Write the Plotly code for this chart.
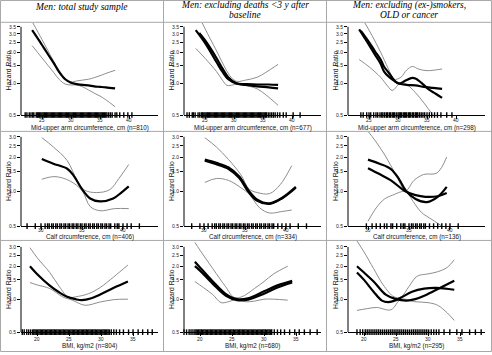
import math
import plotly.graph_objects as go

W, H = 492, 355

# ================= DATA =================
# Column titles
col_titles = [["Men: total study sample"],
              ["Men: excluding deaths &lt;3 y after", "baseline"],
              ["Men: excluding (ex-)smokers,", "OLD or cancer"]]
row_xlabels = [["Mid-upper arm circumference, cm (n=810)",
                "Mid-upper arm circumference, cm (n=677)",
                "Mid-upper arm circumference, cm (n=298)"],
               ["Calf circumference, cm (n=406)",
                "Calf circumference, cm (n=334)",
                "Calf circumference, cm (n=136)"],
               ["BMI, kg/m2 (n=804)", "BMI, kg/m2 (n=680)", "BMI, kg/m2 (n=295)"]]
y_title = "Hazard Ratio"

row_x_ticks = [[25, 30, 35, 40], [30, 35, 40], [20, 25, 30, 35]]
row_y_ticks = [[0.5, 1.0, 1.5, 2.0, 2.5, 3.0, 3.5],
               [0.5, 1.0, 1.5, 2.0, 2.5, 3.0],
               [0.5, 1.0, 1.5, 2.0, 2.5, 3.0]]

# ---- Row 1: MUAC ----
muac1_fit_x = [23.3, 24.0, 25.0, 26.0, 27.0, 28.0, 29.0, 30.0, 31.0, 32.0, 33.0, 34.0, 35.0, 36.0, 37.6]
muac1_fit_hr = [3.25, 2.85, 2.34, 1.92, 1.58, 1.28, 1.10, 1.02, 0.99, 0.97, 0.96, 0.94, 0.93, 0.92, 0.90]
muac1_up_x = [23.4, 25.0, 27.0, 28.0, 29.0, 30.0, 31.0, 32.0, 33.0, 34.0, 35.0, 36.0, 37.6]
muac1_up_hr = [3.83, 2.64, 1.64, 1.33, 1.12, 1.04, 1.06, 1.08, 1.10, 1.14, 1.19, 1.25, 1.34]
muac1_lo_x = [23.3, 25.0, 27.0, 28.0, 29.0, 30.0, 31.0, 32.0, 33.0, 34.0, 35.0, 36.0, 37.6]
muac1_lo_hr = [2.31, 1.76, 1.28, 1.09, 0.99, 0.97, 0.97, 0.93, 0.87, 0.81, 0.76, 0.70, 0.60]

muac2_fitA_x = [23.4, 25.0, 27.0, 28.0, 29.0, 30.5, 32.0, 34.0, 36.0, 37.6]
muac2_fitA_hr = [3.25, 2.45, 1.60, 1.30, 1.10, 1.00, 0.99, 0.98, 0.98, 0.97]
muac2_fitB_x = [24.0, 25.0, 27.0, 28.0, 29.0, 30.5, 32.0, 34.0, 36.0, 37.6]
muac2_fitB_hr = [3.05, 2.60, 1.75, 1.40, 1.15, 1.00, 0.97, 0.94, 0.92, 0.90]
muac2_up_x = [24.5, 25.0, 27.0, 28.6, 29.5, 30.5, 32.0, 34.0, 35.5, 37.6]
muac2_up_hr = [3.83, 3.36, 2.05, 1.37, 1.15, 1.05, 1.08, 1.15, 1.28, 1.53]
muac2_lo_x = [23.4, 25.0, 27.0, 28.0, 28.8, 29.8, 30.5, 32.0, 34.0, 35.5, 37.6]
muac2_lo_hr = [2.17, 1.75, 1.30, 1.08, 0.96, 0.97, 0.99, 0.96, 0.89, 0.78, 0.62]

muac3_fitA_x = [23.3, 25.0, 26.0, 27.0, 27.6, 28.5, 29.5, 30.2, 31.5, 33.0, 34.5, 36.0, 37.6]
muac3_fitA_hr = [3.30, 2.35, 1.90, 1.55, 1.30, 1.15, 1.05, 1.00, 0.97, 0.96, 0.93, 0.91, 0.89]
muac3_fitB_x = [23.6, 25.0, 26.0, 27.0, 27.6, 28.5, 29.5, 30.2, 31.3, 32.3, 33.0, 34.0, 35.3, 36.5, 37.6]
muac3_fitB_hr = [3.20, 2.50, 2.05, 1.70, 1.45, 1.25, 1.05, 1.00, 1.07, 1.13, 1.12, 1.02, 0.88, 0.80, 0.73]
muac3_up_x = [24.3, 25.5, 27.0, 28.3, 29.3, 30.5, 31.5, 32.5, 33.5, 35.0, 37.6]
muac3_up_hr = [3.80, 2.90, 2.00, 1.40, 1.10, 1.15, 1.35, 1.46, 1.38, 1.33, 1.38]
muac3_lo_x = [23.3, 25.0, 27.0, 28.2, 29.0, 30.5, 31.5, 33.0, 34.5, 35.8, 36.8]
muac3_lo_hr = [1.70, 1.45, 1.15, 0.95, 0.86, 1.02, 0.98, 0.82, 0.65, 0.52, 0.45]

# ---- Row 2: calf circumference ----
calf1_fit_x = [30.1, 31.5, 33.2, 34.0, 35.0, 36.0, 37.2, 38.8, 39.8, 40.7]
calf1_fit_hr = [1.92, 1.75, 1.58, 1.37, 1.05, 0.87, 0.82, 0.87, 0.98, 1.11]
calf1_up_x = [30.1, 31.5, 33.2, 34.4, 35.3, 36.8, 38.4, 39.5, 40.7]
calf1_up_hr = [2.95, 2.45, 1.86, 1.25, 1.03, 0.98, 1.04, 1.30, 1.72]
calf1_lo_x = [30.1, 31.7, 33.5, 35.0, 36.0, 37.2, 39.0, 40.7]
calf1_lo_hr = [1.28, 1.35, 1.24, 1.02, 0.74, 0.68, 0.71, 0.71]

calf2_fitA_x = [30.1, 31.5, 33.0, 34.3, 35.4, 36.5, 38.0, 39.5, 41.2]
calf2_fitA_hr = [1.90, 1.78, 1.62, 1.35, 1.03, 0.85, 0.79, 0.88, 1.10]
calf2_fitB_x = [30.1, 31.5, 33.0, 34.3, 35.4, 36.5, 38.0, 39.5, 41.2]
calf2_fitB_hr = [1.86, 1.73, 1.57, 1.31, 1.00, 0.83, 0.78, 0.87, 1.08]
calf2_up_x = [30.1, 31.5, 33.0, 34.5, 35.5, 36.5, 38.0, 39.3, 40.7]
calf2_up_hr = [2.95, 2.45, 1.90, 1.40, 1.05, 0.98, 0.96, 1.15, 1.68]
calf2_lo_x = [30.1, 31.5, 33.0, 34.5, 35.5, 36.8, 38.0, 39.5, 40.7]
calf2_lo_hr = [1.20, 1.30, 1.25, 1.08, 0.95, 0.72, 0.65, 0.67, 0.69]

calf3_fitA_x = [30.0, 31.4, 32.8, 33.8, 34.6, 35.8, 37.2, 38.5, 39.6]
calf3_fitA_hr = [1.90, 1.75, 1.57, 1.28, 1.02, 0.86, 0.81, 0.90, 1.10]
calf3_fitB_x = [30.0, 31.4, 32.8, 34.6, 35.8, 37.0, 38.5, 39.6]
calf3_fitB_hr = [1.60, 1.42, 1.25, 1.00, 0.93, 0.90, 0.91, 0.97]
calf3_up_x = [29.8, 31.0, 32.2, 33.4, 34.6, 35.6, 36.8, 38.4, 39.6]
calf3_up_hr = [3.50, 2.70, 2.00, 1.40, 1.02, 1.25, 1.41, 1.45, 2.00]
calf3_lo_x = [30.0, 31.0, 32.0, 33.0, 34.6, 35.5, 36.5, 37.8, 39.6]
calf3_lo_hr = [0.55, 0.72, 0.86, 0.93, 1.00, 0.82, 0.66, 0.57, 0.47]

# ---- Row 3: BMI ----
bmi1_fit_x = [18.9, 20.0, 22.0, 23.5, 24.7, 26.0, 27.0, 28.5, 29.8, 32.0, 34.2]
bmi1_fit_hr = [2.00, 1.70, 1.33, 1.15, 1.05, 1.00, 0.98, 1.02, 1.10, 1.27, 1.45]
bmi1_up_x = [18.9, 20.0, 22.0, 23.5, 24.9, 26.0, 28.0, 29.8, 32.0, 34.2]
bmi1_up_hr = [2.95, 2.40, 1.75, 1.30, 1.04, 1.05, 1.12, 1.27, 1.60, 2.05]
bmi1_lo_x = [18.9, 20.0, 22.0, 24.0, 25.5, 27.5, 29.8, 32.0, 34.2]
bmi1_lo_hr = [1.42, 1.35, 1.25, 1.05, 0.98, 0.88, 0.94, 0.99, 1.00]

bmi2_fitA_x = [19.2, 20.0, 22.0, 24.0, 25.8, 27.5, 30.0, 32.0, 34.4]
bmi2_fitA_hr = [2.20, 1.95, 1.45, 1.12, 1.00, 1.02, 1.18, 1.33, 1.47]
bmi2_fitB_x = [19.2, 20.0, 22.0, 24.0, 25.8, 27.5, 30.0, 32.0, 34.4]
bmi2_fitB_hr = [2.00, 1.82, 1.38, 1.08, 0.98, 0.99, 1.12, 1.27, 1.42]
bmi2_up_x = [19.2, 20.0, 22.0, 24.0, 25.3, 26.5, 28.5, 30.0, 31.5, 33.7]
bmi2_up_hr = [3.30, 2.80, 1.90, 1.30, 1.04, 1.05, 1.25, 1.45, 1.70, 2.00]
bmi2_lo_x = [19.2, 20.5, 22.0, 23.3, 24.5, 25.8, 27.0, 28.5, 30.0, 31.5, 33.7]
bmi2_lo_hr = [1.45, 1.28, 1.10, 0.93, 0.95, 1.00, 0.95, 0.96, 1.00, 1.00, 0.98]

bmi3_fitA_x = [18.9, 20.0, 21.5, 23.4, 25.0, 26.7, 28.0, 29.5, 32.0, 34.1]
bmi3_fitA_hr = [2.00, 1.75, 1.45, 1.10, 1.00, 0.97, 1.00, 1.08, 1.28, 1.47]
bmi3_fitB_x = [18.9, 20.0, 21.5, 22.8, 23.8, 25.0, 26.0, 27.5, 29.4, 31.3, 34.1]
bmi3_fitB_hr = [1.75, 1.50, 1.17, 0.97, 0.94, 0.98, 1.05, 1.17, 1.25, 1.27, 1.22]
bmi3_up_x = [18.9, 20.0, 21.5, 23.0, 24.7, 25.8, 27.0, 28.3, 30.0, 31.5, 33.0, 34.1]
bmi3_up_hr = [3.40, 2.70, 1.90, 1.35, 1.05, 1.05, 1.30, 1.62, 1.70, 1.78, 1.95, 2.29]
bmi3_lo_x = [18.9, 20.5, 22.0, 24.2, 25.8, 27.8, 30.0, 31.5, 33.0, 34.1]
bmi3_lo_hr = [0.79, 0.82, 0.84, 0.80, 1.00, 0.95, 0.93, 0.88, 0.75, 0.64]

# ---- Rug (observed values) ----
muac_rug1 = [22.1, 22.4, 22.8, 23.1, 23.4, 23.6, 24.0, 24.2, 24.4, 24.6, 24.8, 25.0, 25.2, 25.4, 25.6,
             25.8, 26.0, 26.2, 26.4, 26.6, 26.8, 27.0, 27.2, 27.4, 27.6, 27.8, 28.0, 28.2, 28.4, 28.6,
             28.8, 29.0, 29.2, 29.4, 29.6, 29.8, 30.0, 30.2, 30.4, 30.6, 30.8, 31.0, 31.2, 31.4, 31.6,
             31.8, 32.0, 32.2, 32.4, 32.6, 32.8, 33.0, 33.2, 33.4, 33.6, 33.8, 34.0, 34.2, 34.4, 34.6,
             34.8, 35.0, 35.2, 35.4, 35.6, 35.8, 36.0, 36.2, 36.5, 36.8, 37.1, 37.6, 37.9, 38.4, 39.1,
             39.8, 40.5]
muac_rug2 = [21.9, 22.3, 22.8, 23.0, 23.3, 23.8, 24.1, 24.4, 24.6, 24.8, 25.0, 25.2, 25.4, 25.6, 25.8,
             26.0, 26.2, 26.4, 26.6, 26.8, 27.0, 27.2, 27.4, 27.6, 27.8, 28.0, 28.2, 28.4, 28.6, 28.8,
             29.0, 29.2, 29.4, 29.6, 29.8, 30.0, 30.2, 30.4, 30.6, 30.8, 31.0, 31.2, 31.4, 31.6, 31.8,
             32.0, 32.2, 32.4, 32.6, 32.8, 33.0, 33.2, 33.4, 33.6, 33.8, 34.0, 34.2, 34.4, 34.6, 34.8,
             35.0, 35.2, 35.4, 35.6, 35.9, 36.2, 36.5, 36.8, 37.1, 37.5, 37.9, 38.5, 39.0, 40.2, 41.4]
muac_rug3 = [23.6, 24.0, 24.6, 25.0, 25.3, 25.8, 26.2, 26.5, 26.9, 27.2, 27.4, 27.7, 28.0, 28.2, 28.5,
             28.7, 29.0, 29.2, 29.4, 29.7, 30.0, 30.2, 30.4, 30.6, 30.9, 31.1, 31.3, 31.5, 31.8, 32.0,
             32.2, 32.5, 32.7, 33.0, 33.2, 33.4, 33.7, 34.0, 34.3, 34.6, 35.0, 35.4, 35.8, 36.3, 36.8,
             37.4, 38.4, 39.3]
calf_rug1 = [28.3, 29.3, 30.0, 30.5, 30.8, 31.0, 31.3, 31.5, 31.8, 32.0, 32.3, 32.5, 32.8, 33.0, 33.3,
             33.5, 33.8, 34.0, 34.3, 34.5, 34.8, 35.0, 35.3, 35.5, 35.8, 36.0, 36.3, 36.5, 36.8, 37.0,
             37.3, 37.5, 37.8, 38.0, 38.3, 38.5, 39.0, 39.3, 39.5, 40.0, 40.5, 41.0, 42.0]
calf_rug2 = [28.5, 29.5, 30.0, 30.5, 31.0, 31.3, 31.5, 31.8, 32.0, 32.3, 32.5, 32.8, 33.0, 33.3, 33.5,
             33.8, 34.0, 34.3, 34.5, 34.8, 35.0, 35.3, 35.5, 35.8, 36.0, 36.3, 36.5, 36.8, 37.0, 37.3,
             37.5, 37.8, 38.0, 38.3, 38.5, 39.0, 39.5, 40.0, 40.5, 41.5, 42.5]
calf_rug3 = [29.8, 30.5, 31.0, 31.5, 32.0, 32.3, 32.8, 33.0, 33.5, 34.0, 34.3, 34.5, 35.0, 35.3, 35.5,
             35.8, 36.0, 36.3, 36.5, 36.8, 37.0, 37.5, 38.0, 38.5, 39.0, 39.5, 40.0, 41.0]
bmi_rug1 = [17.7, 18.0, 18.4, 18.7, 19.0, 19.3, 19.5, 19.7, 19.9, 20.1, 20.3, 20.5, 20.7, 20.9, 21.1,
            21.3, 21.5, 21.7, 21.9, 22.1, 22.3, 22.5, 22.7, 22.9, 23.1, 23.3, 23.5, 23.7, 23.9, 24.1,
            24.3, 24.5, 24.7, 24.9, 25.1, 25.3, 25.5, 25.7, 25.9, 26.1, 26.3, 26.5, 26.7, 26.9, 27.1,
            27.3, 27.5, 27.7, 27.9, 28.1, 28.3, 28.5, 28.7, 28.9, 29.1, 29.3, 29.5, 29.7, 29.9, 30.1,
            30.3, 30.5, 30.7, 30.9, 31.1, 31.3, 31.6, 32.0, 32.4, 32.9, 33.5, 34.3, 35.0, 35.8, 36.5,
            37.3, 38.0]
bmi_rug2 = [17.5, 17.9, 18.3, 18.6, 18.9, 19.2, 19.4, 19.6, 19.8, 20.0, 20.2, 20.4, 20.6, 20.8, 21.0,
            21.2, 21.4, 21.6, 21.8, 22.0, 22.2, 22.4, 22.6, 22.8, 23.0, 23.2, 23.4, 23.6, 23.8, 24.0,
            24.2, 24.4, 24.6, 24.8, 25.0, 25.2, 25.4, 25.6, 25.8, 26.0, 26.2, 26.4, 26.6, 26.8, 27.0,
            27.2, 27.4, 27.6, 27.8, 28.0, 28.2, 28.4, 28.6, 28.8, 29.0, 29.2, 29.4, 29.6, 29.8, 30.0,
            30.2, 30.4, 30.6, 30.8, 31.0, 31.2, 31.6, 32.1, 32.6, 33.2, 34.0, 34.8, 35.5, 36.3, 37.2,
            38.3]
bmi_rug3 = [18.9, 19.4, 19.8, 20.2, 20.5, 20.8, 21.1, 21.4, 21.7, 22.0, 22.3, 22.6, 22.9, 23.2, 23.5,
            23.8, 24.1, 24.4, 24.7, 25.0, 25.3, 25.6, 25.9, 26.2, 26.5, 26.8, 27.1, 27.4, 27.7, 28.0,
            28.3, 28.6, 28.9, 29.2, 29.5, 29.8, 30.1, 30.5, 30.9, 31.3, 31.7, 32.5, 33.4, 34.5, 35.3,
            36.5, 37.4, 38.3]

panels = [
    # row 1
    dict(fits=[(muac1_fit_x, muac1_fit_hr)], ci=[(muac1_up_x, muac1_up_hr), (muac1_lo_x, muac1_lo_hr)], rug=muac_rug1),
    dict(fits=[(muac2_fitA_x, muac2_fitA_hr), (muac2_fitB_x, muac2_fitB_hr)], ci=[(muac2_up_x, muac2_up_hr), (muac2_lo_x, muac2_lo_hr)], rug=muac_rug2),
    dict(fits=[(muac3_fitA_x, muac3_fitA_hr), (muac3_fitB_x, muac3_fitB_hr)], ci=[(muac3_up_x, muac3_up_hr), (muac3_lo_x, muac3_lo_hr)], rug=muac_rug3),
    # row 2
    dict(fits=[(calf1_fit_x, calf1_fit_hr)], ci=[(calf1_up_x, calf1_up_hr), (calf1_lo_x, calf1_lo_hr)], rug=calf_rug1),
    dict(fits=[(calf2_fitA_x, calf2_fitA_hr), (calf2_fitB_x, calf2_fitB_hr)], ci=[(calf2_up_x, calf2_up_hr), (calf2_lo_x, calf2_lo_hr)], rug=calf_rug2),
    dict(fits=[(calf3_fitA_x, calf3_fitA_hr), (calf3_fitB_x, calf3_fitB_hr)], ci=[(calf3_up_x, calf3_up_hr), (calf3_lo_x, calf3_lo_hr)], rug=calf_rug3),
    # row 3
    dict(fits=[(bmi1_fit_x, bmi1_fit_hr)], ci=[(bmi1_up_x, bmi1_up_hr), (bmi1_lo_x, bmi1_lo_hr)], rug=bmi_rug1),
    dict(fits=[(bmi2_fitA_x, bmi2_fitA_hr), (bmi2_fitB_x, bmi2_fitB_hr)], ci=[(bmi2_up_x, bmi2_up_hr), (bmi2_lo_x, bmi2_lo_hr)], rug=bmi_rug2),
    dict(fits=[(bmi3_fitA_x, bmi3_fitA_hr), (bmi3_fitB_x, bmi3_fitB_hr)], ci=[(bmi3_up_x, bmi3_up_hr), (bmi3_lo_x, bmi3_lo_hr)], rug=bmi_rug3),
]

# ================= LAYOUT GEOMETRY =================
col_off = [0, 163, 327]
row_px = [(23, 27, 116), (133, 138, 228), (243, 249, 335)]  # domain top, top tick, bottom (0.5)
row_x_range = [[21.38, 45.0], [27.56, 44.27], [17.5, 38.9]]
row_xticklab_y = [121.5, 232, 341.5]
row_xtitle_y = [129, 239, 349]
AX_L, AX_R = 21, 158

SANS = "Liberation Sans, Arial, sans-serif"
SERIF = "Liberation Serif, Times New Roman, serif"
GRID = "#a8a8a8"
CI_COL = "#8e8e8e"

fig = go.Figure()
layout = dict(width=W, height=H, margin=dict(l=0, r=0, t=0, b=0),
              paper_bgcolor="white", plot_bgcolor="white", showlegend=False)
shapes, annotations = [], []


def py(p):
    return 1 - p / H


for r in range(3):
    dtop, ttop, bot = row_px[r]
    top_tick = row_y_ticks[r][-1]
    lo = math.log10(0.5)
    ppu = (bot - ttop) / (math.log10(top_tick) - lo)
    hi = lo + (bot - dtop) / ppu
    for c in range(3):
        k = r * 3 + c + 1
        sfx = "" if k == 1 else str(k)
        xname, yname = "x" + sfx, "y" + sfx
        x0, x1 = AX_L + col_off[c], AX_R + col_off[c]
        layout["xaxis" + sfx] = dict(
            domain=[x0 / W, x1 / W], range=row_x_range[r], anchor=yname,
            tickmode="array", tickvals=row_x_ticks[r], showticklabels=False,
            ticks="outside", ticklen=2.5, tickwidth=1, tickcolor="#000",
            showline=True, linecolor="#000", linewidth=1,
            showgrid=False, zeroline=False)
        layout["yaxis" + sfx] = dict(
            domain=[py(bot), py(dtop)], type="log", range=[lo, hi], anchor=xname,
            tickmode="array", tickvals=row_y_ticks[r],
            ticktext=["%.1f" % v for v in row_y_ticks[r]],
            ticks="outside", ticklen=3, tickwidth=1, tickcolor="#000",
            showline=False, showgrid=False, zeroline=False,
            tickfont=dict(family=SANS, size=5, color="#222"))
        # y axis line (from 0.5 to top tick)
        shapes.append(dict(type="line", xref="paper", yref="paper",
                           x0=x0 / W, x1=x0 / W, y0=py(bot), y1=py(ttop),
                           line=dict(color="#000", width=1)))
        p = panels[k - 1]
        for (xs, ys) in p["ci"]:
            fig.add_trace(go.Scatter(x=xs, y=ys, mode="lines", xaxis=xname, yaxis=yname,
                                     line=dict(color=CI_COL, width=1, shape="spline", smoothing=1.0),
                                     hoverinfo="skip"))
        for (xs, ys) in p["fits"]:
            fig.add_trace(go.Scatter(x=xs, y=ys, mode="lines", xaxis=xname, yaxis=yname,
                                     line=dict(color="#000", width=2.2, shape="spline", smoothing=1.0),
                                     hoverinfo="skip"))
        fig.add_trace(go.Scatter(x=p["rug"], y=[0.5] * len(p["rug"]), mode="markers",
                                 xaxis=xname, yaxis=yname, cliponaxis=False,
                                 marker=dict(symbol="line-ns", size=4,
                                             line=dict(color="#000", width=1.4)),
                                 hoverinfo="skip"))
        # x tick labels
        for v in row_x_ticks[r]:
            annotations.append(dict(text=str(v), xref=xname, yref="paper", x=v,
                                     y=py(row_xticklab_y[r]), xanchor="center", yanchor="middle",
                                     showarrow=False, font=dict(family=SANS, size=5, color="#222")))
        # axis titles
        annotations.append(dict(text=row_xlabels[r][c], xref="paper", yref="paper",
                                 x=(x0 + x1) / 2 / W, y=py(row_xtitle_y[r]),
                                 xanchor="center", yanchor="middle", showarrow=False,
                                 font=dict(family=SANS, size=6.3, color="#111")))
        annotations.append(dict(text=y_title, xref="paper", yref="paper",
                                 x=(8.5 + col_off[c]) / W, y=py((ttop + bot) / 2),
                                 xanchor="center", yanchor="middle", showarrow=False, textangle=-90,
                                 font=dict(family=SANS, size=6.8, color="#111")))

# column titles
col_centers = [81.5, 245, 409]
for c in range(3):
    lines = col_titles[c]
    ys = [7] if len(lines) == 1 else [5.5, 15.5]
    for t, yy in zip(lines, ys):
        annotations.append(dict(text="<i>" + t + "</i>", xref="paper", yref="paper",
                                 x=col_centers[c] / W, y=py(yy), xanchor="center", yanchor="middle",
                                 showarrow=False, font=dict(family=SERIF, size=9.5, color="#000")))

# frame / separators
shapes.append(dict(type="rect", xref="paper", yref="paper", x0=0.5 / W, x1=491.5 / W,
                   y0=py(354.5), y1=py(0.5), line=dict(color=GRID, width=1)))
for xv in [163.5, 326.5]:
    shapes.append(dict(type="line", xref="paper", yref="paper", x0=xv / W, x1=xv / W,
                       y0=py(354.5), y1=py(0.5), line=dict(color=GRID, width=1)))
for yv in [22.5, 132.5, 242.5]:
    shapes.append(dict(type="line", xref="paper", yref="paper", x0=0.5 / W, x1=491.5 / W,
                       y0=py(yv), y1=py(yv), line=dict(color=GRID, width=1)))

layout["shapes"] = shapes
layout["annotations"] = annotations
fig.update_layout(**layout)
fig.write_html("out.html", config={"displayModeBar": False, "staticPlot": True},
               post_script="document.body.style.margin='0';document.body.style.overflow='hidden';")
